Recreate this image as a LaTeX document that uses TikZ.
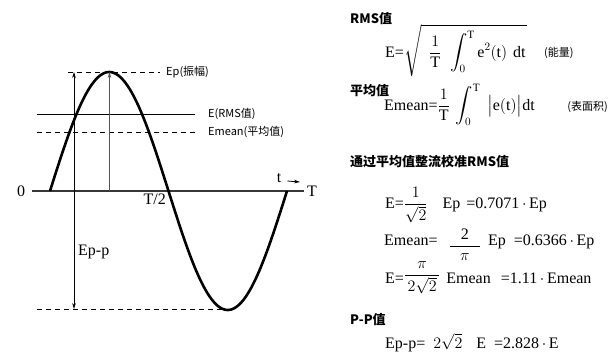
\RequirePackage{fix-cm}
\documentclass[tikz,border=0pt]{standalone}
\usepackage{amsmath}
\usepackage{fontspec}
\setmainfont{Liberation Serif}
\usetikzlibrary{arrows.meta, positioning}
\newfontfamily\cjk{Noto Sans CJK SC}
\definecolor{axisgray}{RGB}{55, 55, 55}
\definecolor{guidegray}{RGB}{85, 85, 85}

\begin{document}
\begin{tikzpicture}[
  x=1pt, y=-1pt,
  every node/.style={inner sep=0pt},
  wave/.style={line width=2.6pt, black},
  axisline/.style={line width=1.3pt, axisgray},
  level/.style={line width=0.8pt, black},
  dashlevel/.style={line width=0.8pt, black, dash pattern=on 5pt off 4pt},
  arrowtip/.style={-{Stealth[length=6pt, width=3.6pt]}},
  cjklabel/.style={font=\cjk\fontsize{11}{13}\selectfont, anchor=west},
  serif/.style={font=\fontsize{16}{18}\selectfont},
  heading/.style={font=\cjk\bfseries\fontsize{13}{15}\selectfont, anchor=west},
  formula/.style={font=\fontsize{16}{19}\selectfont, anchor=base west},
  remark/.style={font=\cjk\fontsize{11}{13}\selectfont}
]
\useasboundingbox (0,0) rectangle (609,354);

% ── Waveform ─────────────────────────────────────────────────────────────────
\coordinate (axisL)    at (32,191);
\coordinate (axisR)    at (304,191);
\coordinate (peak)     at (109.5,72);
\coordinate (peakfoot) at (109.5,191);
\coordinate (pptop)    at (74,72);
\coordinate (ppbot)    at (74,309);
\coordinate (trough)   at (228,309);

\draw[axisline] (axisL) -- (axisR);
\draw[wave] plot[domain=0:360, samples=120, smooth]
  ({50+\x/360*237}, {191-119*sin(\x)});

% labels on the axis
\node[serif] (zero)  at (21,191)  {0};
\node[serif] (tend)  at (312,191) {T};
\node[serif, anchor=north east] (half) at (166,194) {T/2};
\node[serif] (tlabel) at (279,178) {t};
\coordinate (tarrow) at (300,182);
\draw[arrowtip, line width=0.8pt] ([xshift=6pt, yshift=-3pt]tlabel.east) -- (tarrow);

% ── Levels ───────────────────────────────────────────────────────────────────
\node[cjklabel] (epamp) at (166,72)  {Ep(振幅)};
\node[cjklabel] (erms)  at (208,114) {E(RMS值)};
\node[cjklabel] (emean) at (208,132) {Emean(平均值)};

\coordinate (ampL)  at (68,72);
\coordinate (rmsL)  at (37,114);
\coordinate (meanL) at (37,132);
\coordinate (lowL)  at (37,309);

\draw[dashlevel] (ampL)  -- ([xshift=-6pt]epamp.west);
\draw[level]     (rmsL)  -- ([xshift=-13pt]erms.west);
\draw[dashlevel] (meanL) -- ([xshift=-13pt]emean.west);
\draw[dashlevel] (lowL)  -- (trough);

% amplitude arrows
\draw[arrowtip, line width=0.8pt, guidegray] (peakfoot) -- (peak);
\draw[{Stealth[length=6pt, width=3.6pt]}-{Stealth[length=6pt, width=3.6pt]},
      line width=0.8pt] (pptop) -- (ppbot);
\node[serif, anchor=west] (epp) at (78,252) {Ep-p};

% ── Formulas ─────────────────────────────────────────────────────────────────
\node[heading] (hrms) at (350,18.5) {RMS值};
\node[formula] (frms) at (385,57)
  {E=$\sqrt{\hspace{8pt}\dfrac{1}{\mathrm{T}}\hspace{6pt}\displaystyle\int_{0}^{\mathrm{T}}\mathrm{e}^{2}(\mathrm{t})\hspace{6pt}\mathrm{dt}\hspace{1pt}}$};
\node[remark, anchor=base west] (nrms) at (544,56) {(能量)};

\node[heading] (hmean) at (350,91) {平均值};
\node[formula] (fmean) at (384,110)
  {Emean=$\dfrac{1}{\mathrm{T}}\hspace{3pt}\displaystyle\int_{0}^{\mathrm{T}}\hspace{7pt}\bigl|\mathrm{e}(\mathrm{t})\bigr|\mathrm{dt}$};
\node[remark, anchor=base east] (nmean) at (608,110) {(表面积)};

\node[heading] (hcal) at (350,161.5) {通过平均值整流校准RMS值};
\node[formula] (fe)  at (385,208)
  {E=$\dfrac{1}{\sqrt{2}}$\hspace{15pt}Ep\hspace{6pt}=0.7071\,$\cdot$\,Ep};
\node[formula] (fem) at (384,245)
  {Emean=\hspace{11pt}\raisebox{-5pt}{$\dfrac{\makebox[30pt]{2}}{\pi}$}\hspace{7pt}Ep\hspace{8pt}=0.6366\,$\cdot$\,Ep};
\node[formula] (fe2) at (385,283)
  {E=\raisebox{4pt}{$\dfrac{\makebox[34pt]{$\pi$}}{2\sqrt{2}}$}\hspace{6pt}Emean\hspace{10pt}=1.11\,$\cdot$\,Emean};

\node[heading] (hpp) at (350,320) {P-P值};
\node[formula] (fpp) at (385,348)
  {Ep-p=\hspace{8pt}$2\sqrt{2}$\hspace{14pt}E\hspace{8pt}=2.828\,$\cdot$\,E};

\end{tikzpicture}
\end{document}
